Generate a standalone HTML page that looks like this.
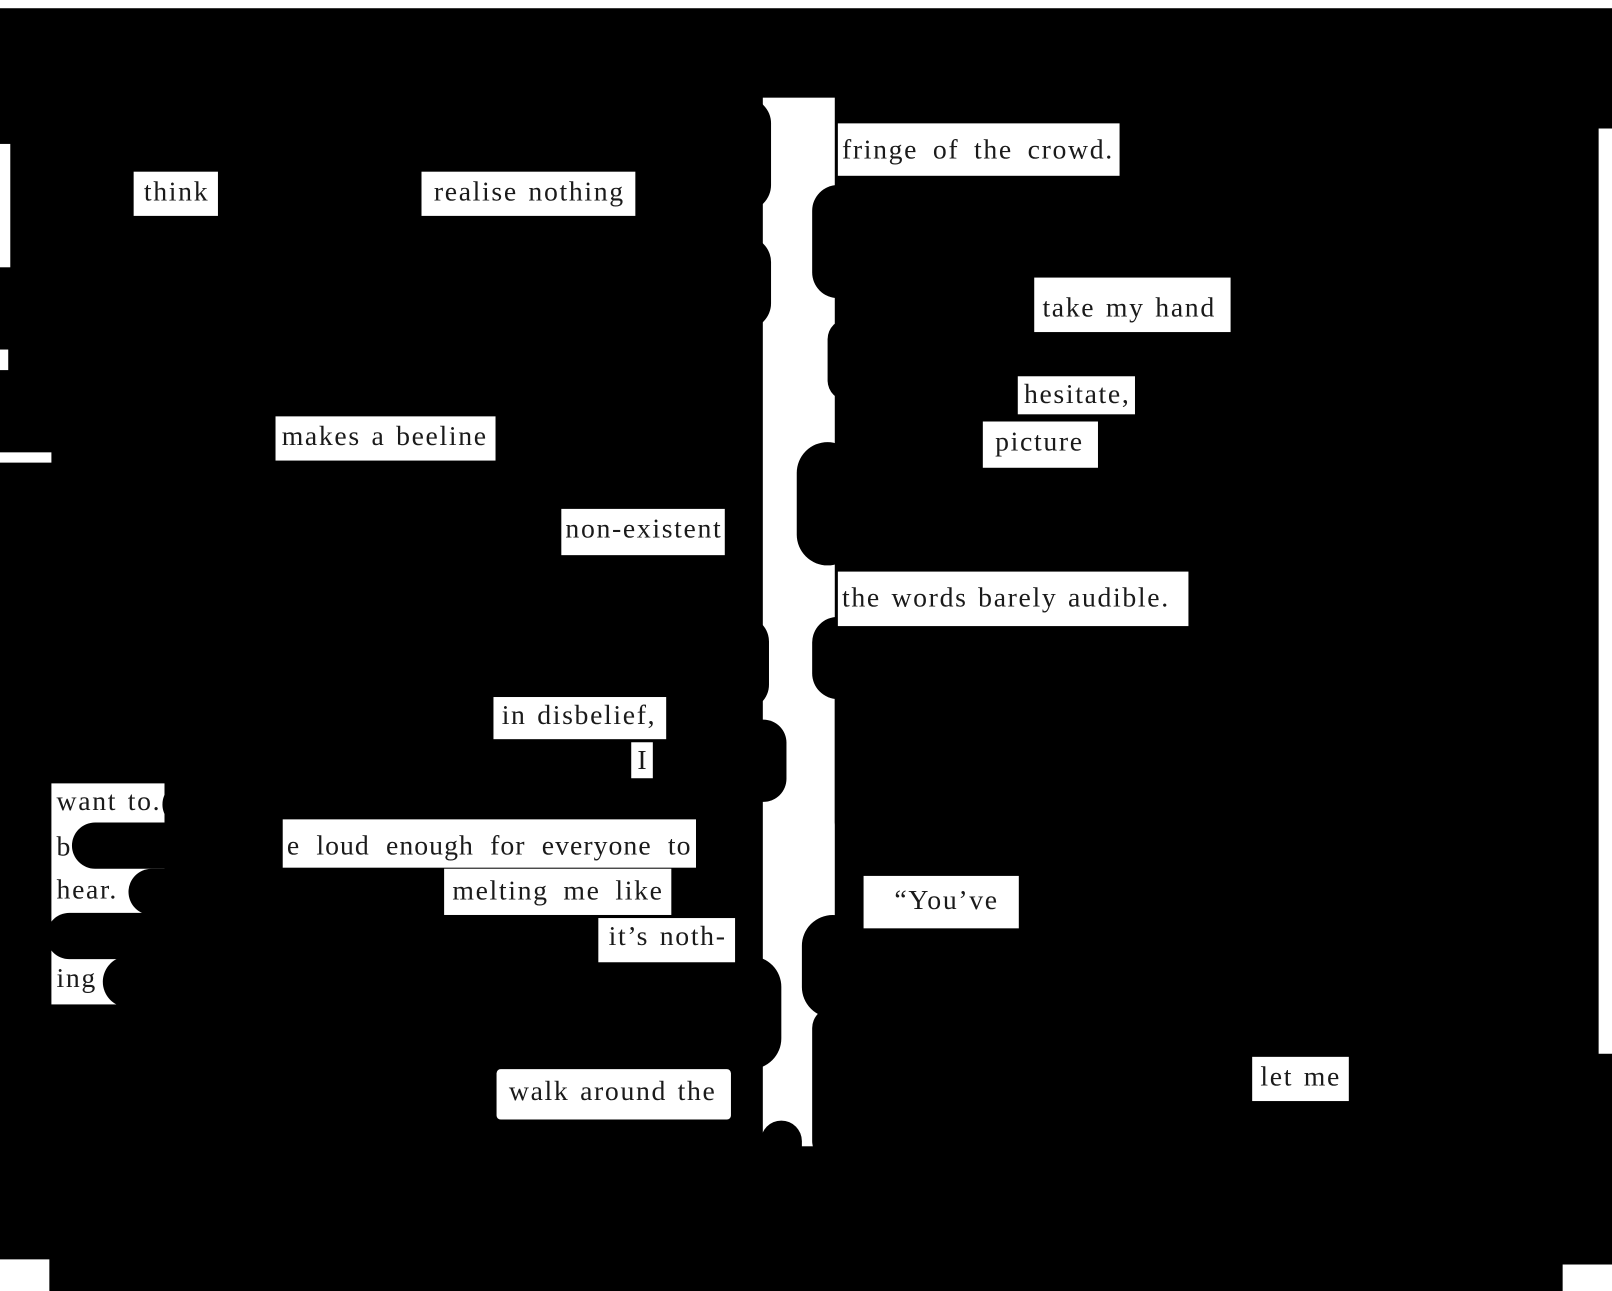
<!DOCTYPE html>
<html><head><meta charset="utf-8"><style>
html,body{margin:0;padding:0;background:#fff;overflow:hidden}
#w{position:relative;width:1568px;height:1256px;transform:scale(1.02806);transform-origin:0 0;background:#000}
.wt{position:absolute;background:#fff}
.t{position:absolute;background:#fff;color:#1a1a1a;font-family:"Liberation Serif",serif;font-size:27px;letter-spacing:1.6px;word-spacing:2px;line-height:1;white-space:nowrap;padding:0}
.b{position:absolute;background:#000;border-radius:30px}
</style></head><body><div id="w">
<div class="wt" style="left:0;top:0;width:1568px;height:8px"></div>
<div class="wt" style="left:0;top:140px;width:10px;height:120px"></div>
<div class="wt" style="left:0;top:340px;width:8px;height:20px"></div>
<div class="wt" style="left:0;top:440px;width:50px;height:10px"></div>
<div class="wt" style="left:1555px;top:125px;width:13px;height:900px"></div>
<div class="wt" style="left:0;top:1225px;width:48px;height:31px"></div>
<div class="wt" style="left:1520px;top:1230px;width:48px;height:26px"></div>
<div class="wt" style="left:742px;top:95px;width:70px;height:1020px"></div>
<div class="b" style="left:700px;top:95px;width:50px;height:110px"></div>
<div class="b" style="left:700px;top:230px;width:50px;height:90px"></div>
<div class="b" style="left:690px;top:540px;width:35px;height:200px"></div>
<div class="b" style="left:700px;top:600px;width:48px;height:90px"></div>
<div class="b" style="left:720px;top:700px;width:45px;height:80px"></div>
<div class="b" style="left:700px;top:930px;width:60px;height:110px"></div>
<div class="b" style="left:740px;top:1090px;width:40px;height:50px"></div>
<div class="b" style="left:790px;top:180px;width:50px;height:110px"></div>
<div class="b" style="left:805px;top:310px;width:40px;height:80px"></div>
<div class="b" style="left:775px;top:430px;width:60px;height:120px"></div>
<div class="b" style="left:790px;top:600px;width:50px;height:80px"></div>
<div class="b" style="left:812px;top:660px;width:40px;height:160px"></div>
<div class="b" style="left:780px;top:890px;width:60px;height:100px"></div>
<div class="b" style="left:790px;top:980px;width:40px;height:150px"></div>
<div class="wt" style="left:50px;top:762px;width:110px;height:215px"></div>
<div class="b" style="left:70px;top:800px;width:140px;height:45px"></div>
<div class="b" style="left:125px;top:845px;width:320px;height:45px"></div>
<div class="b" style="left:45px;top:888px;width:540px;height:45px"></div>
<div class="b" style="left:100px;top:930px;width:300px;height:50px"></div>
<div class="b" style="left:158px;top:760px;width:100px;height:45px"></div>
<div class="t" style="left:130px;top:167px;padding:6px 8px 10px 10px">think</div>
<div class="t" style="left:410px;top:167px;padding:6px 10px 10px 12px">realise nothing</div>
<div class="t" style="left:268px;top:405px;padding:6px 8px 10px 6px">makes a beeline</div>
<div class="t" style="left:546px;top:495px;padding:6px 2px 12px 4px">non-existent</div>
<div class="t" style="left:480px;top:678px;padding:4px 10px 10px 8px">in disbelief,</div>
<div class="t" style="left:614px;top:722px;padding:4px 4px 4px 6px">I</div>
<div class="t" style="left:55px;top:766px;background:none">want to.</div>
<div class="t" style="left:55px;top:810px;background:none">b</div>
<div class="t" style="left:275px;top:797px;padding:12px 4px 8px 4px;letter-spacing:1px;word-spacing:8px">e loud enough for everyone to</div>
<div class="t" style="left:55px;top:852px;background:none">hear.</div>
<div class="t" style="left:432px;top:845px;padding:8px 8px 10px 8px;word-spacing:6px">melting me like</div>
<div class="t" style="left:582px;top:893px;padding:4px 8px 12px 10px">it’s noth-</div>
<div class="t" style="left:55px;top:938px;background:none">ing</div>
<div class="t" style="left:483px;top:1040px;padding:8px 14px 14px 12px;border-radius:4px">walk around the</div>
<div class="t" style="left:815px;top:120px;padding:12px 6px 12px 4px;word-spacing:6px">fringe of the crowd.</div>
<div class="t" style="left:1006px;top:270px;padding:16px 14px 10px 8px">take my hand</div>
<div class="t" style="left:990px;top:366px;padding:4px 4px 6px 6px">hesitate,</div>
<div class="t" style="left:956px;top:410px;padding:6px 14px 12px 12px">picture</div>
<div class="t" style="left:815px;top:556px;padding:12px 18px 14px 4px">the words barely audible.</div>
<div class="t" style="left:840px;top:852px;padding:10px 20px 14px 30px">“You’ve</div>
<div class="t" style="left:1218px;top:1028px;padding:6px 8px 10px 8px">let me</div>
</div></body></html>
